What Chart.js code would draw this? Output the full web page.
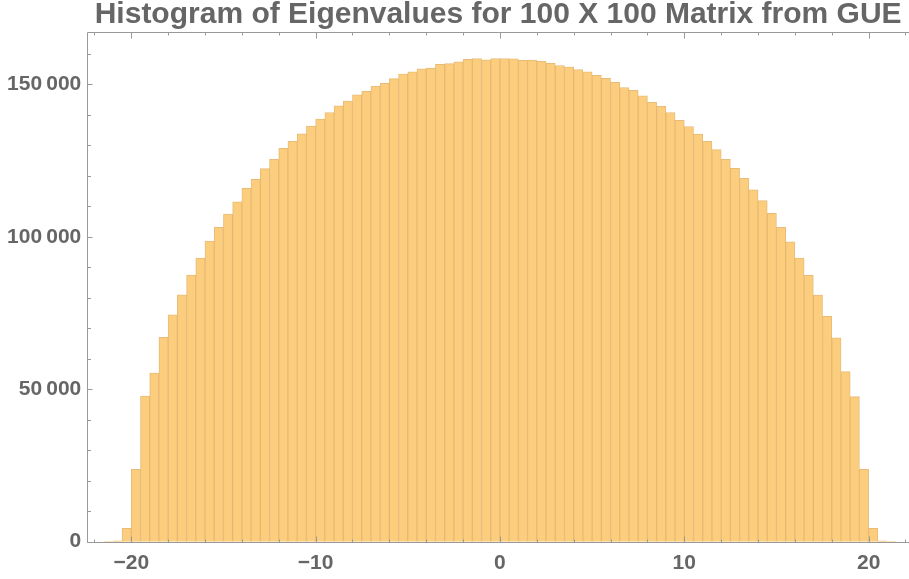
<!DOCTYPE html>
<html>
<head>
<meta charset="utf-8">
<script src="https://cdn.jsdelivr.net/npm/chart.js@4.4.1/dist/chart.umd.min.js"></script>
<style>
  html, body { margin: 0; padding: 0; background: #ffffff; }
  #wrap { width: 909px; height: 579px; }
</style>
</head>
<body>
<div id="wrap"><canvas id="myChart" width="909" height="579"></canvas></div>
<script>
// histogram bins: left edge of each bin (width 0.5)
const binWidth = 0.5;
const binLefts = [
    -21.5, -21, -20.5, -20, -19.5, -19, -18.5, -18, -17.5, -17, -16.5, -16,
    -15.5, -15, -14.5, -14, -13.5, -13, -12.5, -12, -11.5, -11, -10.5, -10,
    -9.5, -9, -8.5, -8, -7.5, -7, -6.5, -6, -5.5, -5, -4.5, -4,
    -3.5, -3, -2.5, -2, -1.5, -1, -0.5, 0, 0.5, 1, 1.5, 2,
    2.5, 3, 3.5, 4, 4.5, 5, 5.5, 6, 6.5, 7, 7.5, 8,
    8.5, 9, 9.5, 10, 10.5, 11, 11.5, 12, 12.5, 13, 13.5, 14,
    14.5, 15, 15.5, 16, 16.5, 17, 17.5, 18, 18.5, 19, 19.5, 20,
    20.5, 21
];
const counts = [
    50, 300, 4400, 23750, 47800, 55300, 67000, 74400, 81000, 87500, 93000, 98600,
    103100, 107500, 111500, 115900, 118900, 122400, 125400, 129000, 131300, 133800, 136300, 138600,
    140800, 143000, 144500, 146600, 147700, 149500, 150350, 151900, 153400, 154100, 155100, 155400,
    156600, 156800, 157400, 158200, 158500, 158100, 158500, 158500, 158400, 157900, 158000, 157600,
    156900, 156200, 155700, 154900, 154100, 153000, 152000, 150700, 149000, 148100, 146300, 144100,
    142800, 140800, 138200, 136200, 133700, 131300, 128600, 125400, 122500, 119200, 115400, 111900,
    107700, 103100, 98400, 93000, 87400, 80900, 73900, 66900, 55800, 47600, 23750, 4400,
    300, 50
];

const xTicks = [-20, -10, 0, 10, 20];
const yTicks = [0, 50000, 100000, 150000];

const labelColor = "#666666";
const frameColor = "#999999";

function fmtThousands(v) {
    return String(v).replace(/\B(?=(\d{3})+(?!\d))/g, "\u2009");
}

// Mathematica-style frame with inward ticks
const framePlugin = {
    id: "frame",
    afterDatasetsDraw(chart) {
        const { ctx, chartArea: a, scales: { x, y } } = chart;
        const bottom = Math.round(y.getPixelForValue(0)) + 0.5;
        const left = Math.round(a.left) + 0.5;
        const top = Math.round(a.top) + 0.5;
        ctx.save();
        ctx.strokeStyle = frameColor;
        ctx.lineWidth = 1;
        ctx.beginPath();
        ctx.moveTo(left, bottom); ctx.lineTo(a.right, bottom);
        ctx.moveTo(left, bottom); ctx.lineTo(left, top);
        ctx.lineTo(a.right, top);

        for (let v = -22; v <= 22; v += 2) {
            const px = Math.round(x.getPixelForValue(v)) + 0.5;
            if (px < a.left || px > a.right) continue;
            const len = v % 10 === 0 ? 6 : 3;
            ctx.moveTo(px, bottom); ctx.lineTo(px, bottom - len);
            ctx.moveTo(px, top); ctx.lineTo(px, top + len);
        }
        for (let v = 0; v <= 160000; v += 10000) {
            const py = Math.round(y.getPixelForValue(v)) + 0.5;
            const len = v % 50000 === 0 ? 5 : 3.5;
            ctx.moveTo(left, py); ctx.lineTo(left + len, py);
        }
        ctx.stroke();
        ctx.restore();
    }
};

const data = binLefts.map((l, i) => ({ x: l + binWidth / 2, y: counts[i] }));

new Chart(document.getElementById("myChart").getContext("2d"), {
    type: "bar",
    data: {
        datasets: [{
            label: "Eigenvalues",
            data: data,
            backgroundColor: "rgb(251, 205, 125)",
            borderColor: "rgba(228, 176, 96, 0.85)",
            borderWidth: 1,
            barPercentage: 1,
            categoryPercentage: 1,
        }]
    },
    options: {
        responsive: false,
        animation: false,
        layout: { padding: 0 },
        plugins: {
            legend: { display: false },
            tooltip: { enabled: false },
            title: {
                display: true,
                text: "Histogram of Eigenvalues for 100 X 100 Matrix from GUE",
                fullSize: false,
                color: labelColor,
                font: { family: "Liberation Sans", size: 30, weight: "bold", lineHeight: 1 },
                padding: { top: 0, bottom: 2 },
            }
        },
        scales: {
            x: {
                type: "linear",
                offset: false,
                min: -22.385,
                max: 22.19,
                grid: { display: false, drawTicks: false, offset: false },
                border: { display: false },
                afterBuildTicks(scale) {
                    scale.ticks = xTicks.map(v => ({ value: v }));
                },
                afterFit(scale) { scale.height = 37.3; },
                ticks: {
                    color: labelColor,
                    font: { family: "Liberation Sans", size: 21, weight: "bold" },
                    padding: 9,
                    maxRotation: 0,
                    autoSkip: false,
                    callback: v => (v < 0 ? "\u2212" + Math.abs(v) : String(v)),
                }
            },
            y: {
                min: 0,
                max: 167200,
                grid: { display: false, drawTicks: false },
                border: { display: false },
                afterBuildTicks(scale) {
                    scale.ticks = yTicks.map(v => ({ value: v }));
                },
                afterFit(scale) { scale.width = 87.3; },
                ticks: {
                    color: labelColor,
                    font: { family: "Liberation Sans", size: 21, weight: "bold" },
                    padding: 6,
                    callback: v => fmtThousands(v),
                }
            }
        }
    },
    plugins: [framePlugin]
});
</script>
</body>
</html>
